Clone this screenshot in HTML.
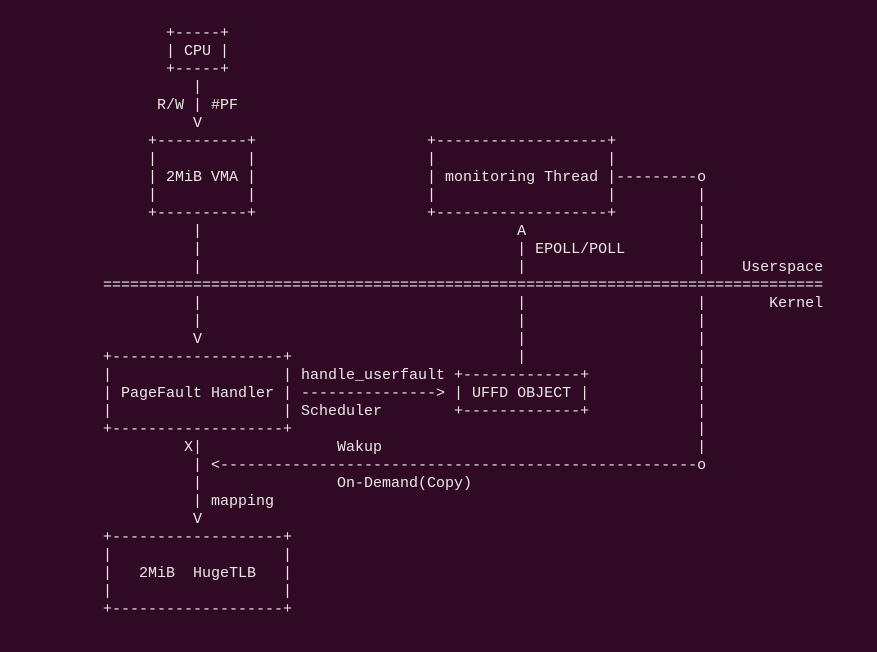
<!DOCTYPE html>
<html><head><meta charset="utf-8"><style>
html,body{margin:0;padding:0;background:#300a24;width:877px;height:652px;overflow:hidden}
pre{position:absolute;left:103px;top:25px;margin:0;font-family:"Liberation Mono",monospace;font-size:15px;line-height:18px;color:#e8e6e3}
</style></head><body><pre>       +-----+
       | CPU |
       +-----+
          |
      R/W | #PF
          V
     +----------+                   +-------------------+
     |          |                   |                   |
     | 2MiB VMA |                   | monitoring Thread |---------o
     |          |                   |                   |         |
     +----------+                   +-------------------+         |
          |                                   A                   |
          |                                   | EPOLL/POLL        |
          |                                   |                   |    Userspace
================================================================================
          |                                   |                   |       Kernel
          |                                   |                   |
          V                                   |                   |
+-------------------+                         |                   |
|                   | handle_userfault +-------------+            |
| PageFault Handler | ---------------> | UFFD OBJECT |            |
|                   | Scheduler        +-------------+            |
+-------------------+                                             |
         X|               Wakup                                   |
          | &lt;-----------------------------------------------------o
          |               On-Demand(Copy)
          | mapping
          V
+-------------------+
|                   |
|   2MiB  HugeTLB   |
|                   |
+-------------------+</pre></body></html>
